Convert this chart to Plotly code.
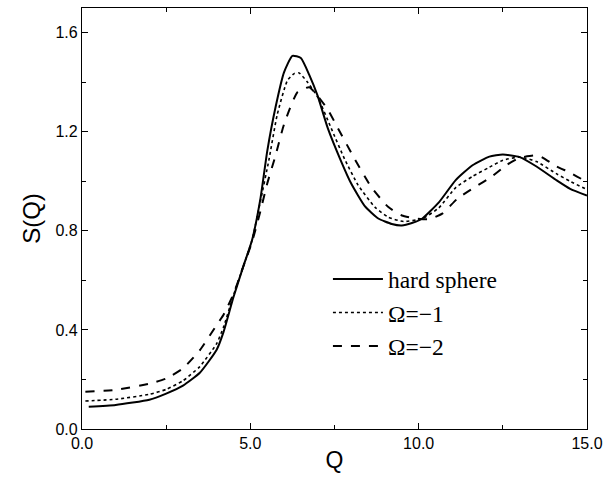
import plotly.graph_objects as go

# hard sphere (solid)
Q_hs = [0.2, 1.0, 2.0, 2.5, 3.0, 3.5, 4.0, 4.2, 4.5, 4.8, 5.05, 5.3, 5.5, 5.75, 6.0, 6.25, 6.5, 6.75,
        7.0, 7.3, 7.7, 8.0, 8.4, 8.8, 9.2, 9.5, 9.8, 10.1, 10.6, 11.1, 11.6, 12.1, 12.5, 13.0, 13.5,
        14.1, 14.5, 15.0]
S_hs = [0.09, 0.097, 0.118, 0.143, 0.175, 0.227, 0.32, 0.39, 0.533, 0.66, 0.762, 0.93, 1.12, 1.3,
        1.44, 1.507, 1.498, 1.43, 1.345, 1.215, 1.08, 0.99, 0.9, 0.85, 0.828, 0.822, 0.832, 0.849,
        0.915, 1.005, 1.065, 1.1, 1.108, 1.098, 1.06, 1.004, 0.97, 0.943]

# Omega = -1 (dotted)
Q_m1 = [0.1, 1.0, 2.0, 2.5, 3.0, 3.5, 4.0, 4.2, 4.5, 4.8, 5.05, 5.3, 5.55, 5.8, 6.1, 6.3, 6.45, 6.7,
        7.0, 7.4, 7.8, 8.2, 8.7, 9.1, 9.55, 10.1, 10.6, 11.1, 11.6, 12.1, 12.5, 13.0, 13.5, 14.1,
        14.5, 15.0]
S_m1 = [0.113, 0.12, 0.14, 0.16, 0.195, 0.252, 0.345, 0.41, 0.54, 0.66, 0.762, 0.92, 1.085, 1.27,
        1.407, 1.435, 1.438, 1.40, 1.34, 1.215, 1.09, 0.985, 0.896, 0.855, 0.838, 0.849, 0.893,
        0.975, 1.02, 1.057, 1.085, 1.098, 1.08, 1.03, 1.0, 0.967]

# Omega = -2 (dashed)
Q_m2 = [0.1, 1.0, 2.0, 2.5, 3.0, 3.5, 4.0, 4.2, 4.5, 4.8, 5.05, 5.3, 5.5, 5.75, 6.0, 6.4, 6.75,
        7.0, 7.3, 7.6, 8.1, 8.6, 9.1, 9.5, 9.9, 10.3, 10.7, 11.15, 11.65, 12.15, 12.6, 13.0, 13.4,
        13.6, 14.1, 14.5, 15.0]
S_m2 = [0.15, 0.158, 0.183, 0.204, 0.245, 0.318, 0.42, 0.46, 0.545, 0.66, 0.755, 0.88, 0.99, 1.105,
        1.23, 1.36, 1.38, 1.345, 1.29, 1.215, 1.09, 0.975, 0.896, 0.862, 0.85, 0.847, 0.87, 0.93,
        0.975, 1.017, 1.065, 1.095, 1.104, 1.102, 1.06, 1.035, 0.997]

names = ["hard sphere", "Ω=−1", "Ω=−2"]
x_ticks = [0, 5, 10, 15]
y_ticks = [0.0, 0.4, 0.8, 1.2, 1.6]

fig = go.Figure()
fig.add_trace(go.Scatter(x=Q_hs, y=S_hs, mode="lines", name=names[0],
                         line=dict(color="black", width=2, dash="solid", shape="spline", smoothing=0.5)))
fig.add_trace(go.Scatter(x=Q_m1, y=S_m1, mode="lines", name=names[1],
                         line=dict(color="black", width=1.6, dash="dot", shape="spline", smoothing=0.5)))
fig.add_trace(go.Scatter(x=Q_m2, y=S_m2, mode="lines", name=names[2],
                         line=dict(color="black", width=2, dash="dash", shape="spline", smoothing=0.5)))

axis_common = dict(showline=True, linecolor="black", linewidth=1.2, mirror="ticks",
                   ticks="inside", ticklen=6, tickwidth=1, tickcolor="black",
                   showgrid=False, zeroline=False, automargin=False,
                   tickfont=dict(family="Liberation Sans, Arial", size=16, color="black"))

fig.update_layout(
    width=605, height=478,
    margin=dict(l=82, r=18, t=8, b=49),
    paper_bgcolor="white", plot_bgcolor="white",
    showlegend=True,
    legend=dict(x=0.487, y=0.408, xanchor="left", yanchor="top",
                bgcolor="rgba(0,0,0,0)", borderwidth=0, itemwidth=50,
                font=dict(family="Liberation Serif, Times New Roman", size=23.5, color="black"),
                tracegroupgap=0),
    xaxis=dict(range=[0, 15], tickvals=x_ticks, ticktext=[f"{v:.1f}" for v in x_ticks],
               minor=dict(dtick=2.5, ticks="inside", ticklen=4, tickcolor="black"),
               title=dict(text="Q", font=dict(family="Liberation Sans, Arial", size=23, color="black"),
                          standoff=0),
               **axis_common),
    yaxis=dict(range=[0, 1.7], tickvals=y_ticks, ticktext=[f"{v:.1f}" for v in y_ticks],
               minor=dict(dtick=0.2, ticks="inside", ticklen=4, tickcolor="black"),
               title=dict(text="S(Q)", font=dict(family="Liberation Sans, Arial", size=24, color="black"),
                          standoff=8),
               **axis_common),
)

# remove the page's default body margin so the figure sits at the window's top-left corner
fig.write_html("out.html",
               config={"displayModeBar": False},
               post_script="document.body.style.margin='0';document.body.style.overflow='hidden';")
